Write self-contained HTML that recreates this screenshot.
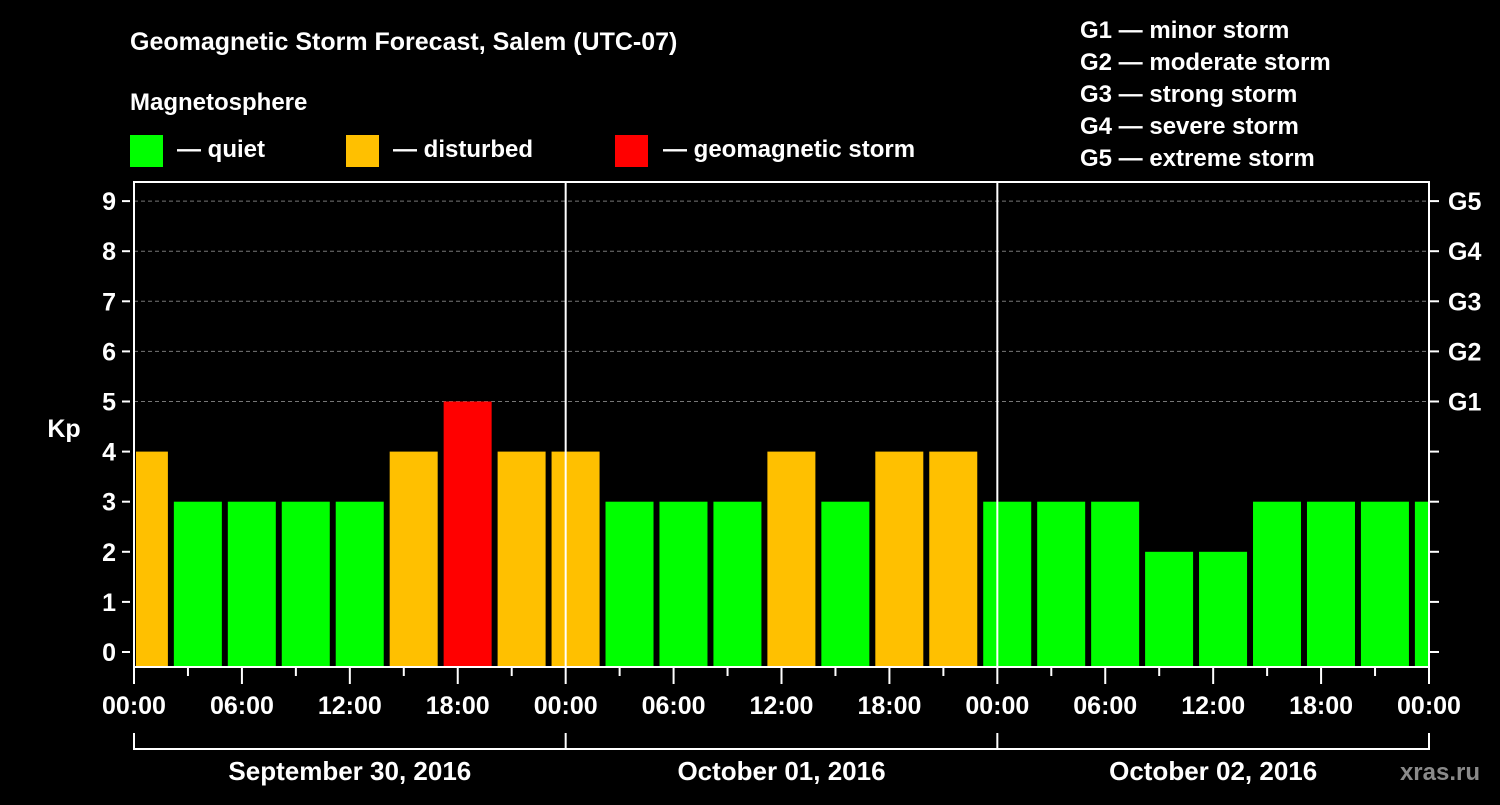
<!DOCTYPE html>
<html><head><meta charset="utf-8"><style>
html,body{margin:0;padding:0;background:#000;}
svg text{font-family:"Liberation Sans",sans-serif;font-weight:bold;fill:#fff;}
</style></head><body>
<svg width="1500" height="800" xmlns="http://www.w3.org/2000/svg">
<text x="130" y="50" font-size="25">Geomagnetic Storm Forecast, Salem (UTC-07)</text>
<text x="130" y="110" font-size="24">Magnetosphere</text>
<rect x="130" y="135" width="33" height="32" fill="#00ff00"/>
<text x="177" y="157" font-size="24">— quiet</text>
<rect x="346" y="135" width="33" height="32" fill="#ffc000"/>
<text x="393" y="157" font-size="24">— disturbed</text>
<rect x="615" y="135" width="33" height="32" fill="#ff0000"/>
<text x="663" y="157" font-size="24">— geomagnetic storm</text>
<g font-size="24">
<text x="1080" y="38">G1 — minor storm</text>
<text x="1080" y="70">G2 — moderate storm</text>
<text x="1080" y="102">G3 — strong storm</text>
<text x="1080" y="134">G4 — severe storm</text>
<text x="1080" y="166">G5 — extreme storm</text>
</g>
<g id="grid"></g>
<g id="bars"></g>
<g id="axes"></g>
<text x="64" y="437" font-size="25" text-anchor="middle">Kp</text>
<text x="1480" y="780" font-size="24" text-anchor="end" fill="#888" style="fill:#8a8a8a">xras.ru</text>
</svg>
<script>
const kpValues=[4,3,3,3,3,4,5,4,4,3,3,3,4,3,4,4,3,3,3,2,2,3,3,3,3];
const dayLabels=["September 30, 2016","October 01, 2016","October 02, 2016"];
const hourLabels=["00:00","06:00","12:00","18:00"];
const gLabels=["G1","G2","G3","G4","G5"];
const NS="http://www.w3.org/2000/svg";
const L=134,R=1429,T=182,B=667;
const hourPx=(R-L)/72;
const xOf=h=>L+h*hourPx;
const yOf=k=>652-k*50.1;
function mk(tag,at,parent){const e=document.createElementNS(NS,tag);for(const k in at)e.setAttribute(k,at[k]);document.getElementById(parent).appendChild(e);return e;}
// grid
for(let k=5;k<=9;k++){const l=mk('line',{x1:L,x2:R,y1:yOf(k),y2:yOf(k),stroke:'#777','stroke-dasharray':'4,3','stroke-width':1},'grid');

}
// bars
const offset=0.55;
kpValues.forEach((v,i)=>{const c=xOf(offset+i*3);let x1=Math.max(L+2,c-24),x2=Math.min(R-1,c+24);
const col=v>=5?'#ff0000':(v>=4?'#ffc000':'#00ff00');
const r=mk('rect',{x:x1,y:yOf(v),width:x2-x1,height:B-yOf(v),fill:col},'bars');

});
// frame
const f=mk('rect',{x:L,y:T,width:R-L,height:B-T,fill:'none',stroke:'#fff','stroke-width':2},'axes');


[1,2].forEach(d=>{const l=mk('line',{x1:xOf(d*24),x2:xOf(d*24),y1:T,y2:B,stroke:'#fff','stroke-width':2},'axes');

});
// y ticks
for(let k=0;k<=9;k++){const y=yOf(k);
mk('line',{x1:L-12,x2:L-4,y1:y,y2:y,stroke:'#fff','stroke-width':2},'axes');
mk('line',{x1:R,x2:R+10,y1:y,y2:y,stroke:'#fff','stroke-width':2},'axes');
const t=mk('text',{x:L-18,y:y+9,'font-size':25,'text-anchor':'end'},'axes');t.textContent=k;


if(k>=5){const g=mk('text',{x:1448,y:y+9,'font-size':25},'axes');g.textContent=gLabels[k-5];

}}
// x ticks
for(let h=0;h<=72;h+=3){const x=xOf(h);const major=h%6===0;
mk('line',{x1:x,x2:x,y1:B,y2:B+(major?17:9),stroke:'#fff','stroke-width':2},'axes');
if(major){const t=mk('text',{x:x,y:714,'font-size':25,'text-anchor':'middle'},'axes');t.textContent=hourLabels[(h/6)%4];

}}
// day bracket
mk('line',{x1:L+1,x2:R,y1:749,y2:749,stroke:'#fff','stroke-width':2},'axes');
for(let d=0;d<=3;d++){mk('line',{x1:xOf(d*24),x2:xOf(d*24),y1:733,y2:750,stroke:'#fff','stroke-width':2},'axes');}
dayLabels.forEach((s,d)=>{const t=mk('text',{x:xOf(d*24+12),y:780,'font-size':26,'text-anchor':'middle'},'axes');t.textContent=s;

});
</script>
</body></html>
